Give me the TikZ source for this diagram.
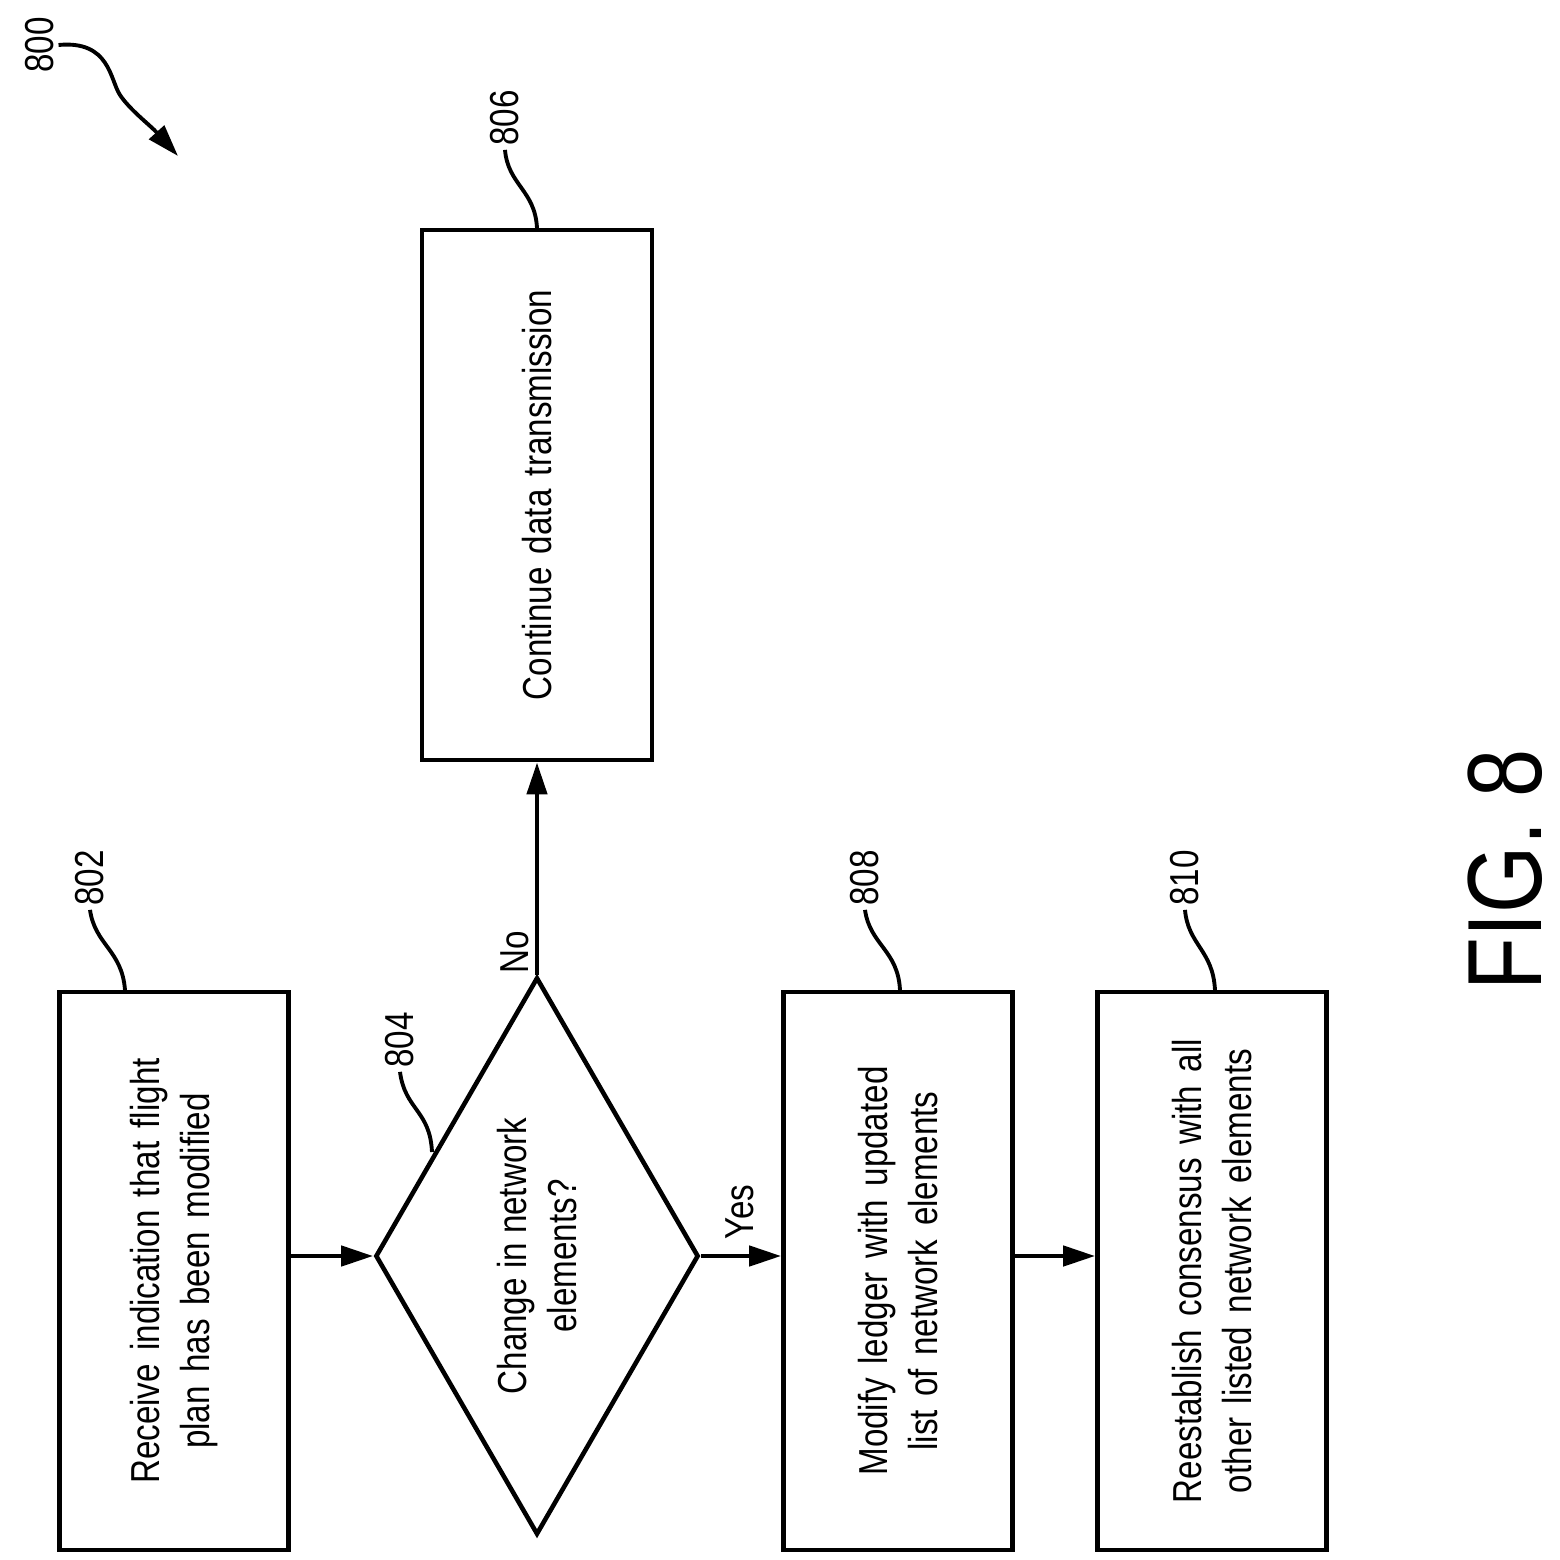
\documentclass[tikz,border=0pt]{standalone}
\usepackage{fontspec}
\setmainfont[FakeStretch=0.82]{Liberation Sans}
\usetikzlibrary{shapes.geometric,arrows.meta}
\begin{document}
\begin{tikzpicture}[x=0.01cm,y=-0.01cm,
  box/.style={draw,line width=1.3pt,rotate=90,minimum width=5.58cm,minimum height=2.29cm,inner sep=0pt,align=center,text width=5cm,font=\fontsize{11.5}{14}\selectfont},
  arr/.style={line width=1.3pt,-{Triangle[length=0.32cm,width=0.2cm]}},
  lead/.style={line width=1.1pt},
  ref/.style={rotate=90,font=\fontsize{11.5}{14}\selectfont,inner sep=1pt}]
\useasboundingbox (0,0) rectangle (1560,1560);
\node[box] (b802) at (174,1271) {Receive indication that flight\\plan has been modified};
\node[draw,line width=1.3pt,diamond,rotate=90,aspect=1.72,minimum width=5.57cm,minimum height=3.23cm,inner sep=0pt,align=center,font=\fontsize{11.5}{14}\selectfont] (d804) at (537,1256) {Change in network\\elements?};
\node[box,minimum width=5.30cm,minimum height=2.30cm] (b806) at (537,495) {Continue data transmission};
\node[box] (b808) at (898,1271) {Modify ledger with updated\\list of network elements};
\node[box] (b810) at (1212,1271) {Reestablish consensus with all\\other listed network elements};
\draw[arr] (b802.south |- d804) -- (d804.north);
\draw[arr] (d804.east) -- (b806.west);
\draw[arr] (d804.south) -- (b808.north |- d804);
\draw[arr] (b808.south |- d804) -- (b810.north |- d804);
\node[ref] (no) at (515,952) {No};
\node[ref] (yes) at (740,1212) {Yes};
\node[ref] (r802) at (90,878) {802};
\coordinate (c802) at (125,990);
\draw[lead] (c802) .. controls (122,950) and (95,945) .. (r802.west);
\node[ref] (r804) at (400,1040) {804};
\coordinate (c804) at (432,1152);
\draw[lead] (c804) .. controls (430,1110) and (405,1110) .. (r804.west);
\node[ref] (r806) at (505,118) {806};
\coordinate (c806) at (537,228);
\draw[lead] (c806) .. controls (535,190) and (508,185) .. (r806.west);
\node[ref] (r808) at (865,878) {808};
\coordinate (c808) at (900,990);
\draw[lead] (c808) .. controls (898,950) and (870,945) .. (r808.west);
\node[ref] (r810) at (1185,878) {810};
\coordinate (c810) at (1215,990);
\draw[lead] (c810) .. controls (1213,950) and (1188,945) .. (r810.west);
\node[ref] (r800) at (40,45) {800};
\coordinate (c800) at (178,156);
\draw[arr,line width=1.1pt] (r800.south) .. controls (110,40) and (110,80) .. (120,95) .. controls (130,110) and (150,125) .. (c800);
\node[rotate=90,font=\fontsize{30}{34}\selectfont] (fig) at (1505,870) {FIG. 8};
\end{tikzpicture}
\end{document}
